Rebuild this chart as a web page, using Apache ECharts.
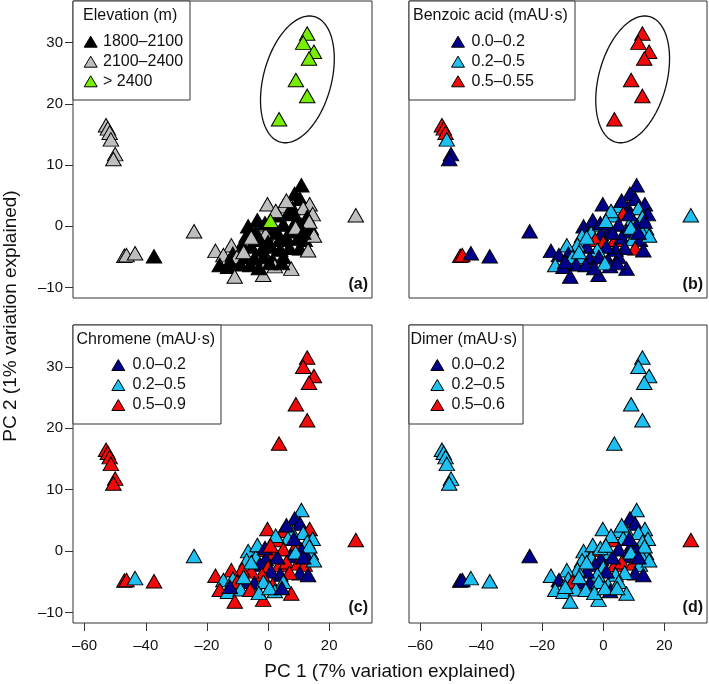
<!DOCTYPE html>
<html>
<head>
<meta charset="utf-8">
<script src="https://cdn.jsdelivr.net/npm/echarts@6/dist/echarts.min.js"></script>
<style>
html,body{margin:0;padding:0;background:#fff;}
#chart{width:709px;height:684px;}
</style>
</head>
<body>
<div id="chart"></div>
<script>
// ---------------- DATA ----------------
const pc1 = [
  12.8, 11.5, 15.0, 13.4, 9.1, 12.8, 3.6,
  -53.0, -52.4, -51.8, -51.4, -50.0, -50.6,
  -47.0, -46.3, -43.5, -37.3,
  -24.2, 28.7,
  10.9, 8.7, 10.4, 13.6, -0.2, 5.0, 8.0, 11.5, 14.6, 6.5, 3.3, 12.8, 9.5,
  -6.5, -2.7, 5.0, 11.0, 14.0, 12.5, 7.5, 2.0, -4.0, -0.8,
  -7.0, -2.7, 0.0, 3.8, 6.0, 9.8, 12.0, 15.0, 10.4, 13.1,
  7.0, 4.0, 1.0, -2.0, -5.5, -8.5, -12.0, -17.2, -14.6, -11.5,
  -10.2, -7.2, -4.5, -1.5, 1.5, 5.0, -15.8, -13.1, -9.0, -5.8,
  2.2, 7.6, -10.9, -1.6, -3.0, 0.5, 9.0, 8.5, 6.0, 2.5,
  -3.5, -5.5, 3.0, 13.5, 11.5, -8.0, -12.5, 4.5, -1.0,
  0.8
];
const pc2 = [
  31.5, 30.0, 28.5, 27.4, 23.9, 21.3, 17.5,
  16.5, 16.0, 15.3, 14.2, 11.8, 11.0,
  -4.8, -4.7, -4.4, -4.9,
  -0.8, 1.8,
  6.7, 5.3, 4.5, 3.6, 3.6, 3.3, 3.0, 3.0, 2.0, 2.1, 1.8, 1.5, 1.2,
  0.0, 0.2, 0.3, 0.2, -0.3, -0.8, -0.8, -0.3, -1.0, -1.3,
  -1.5, -2.2, -2.6, -2.2, -1.8, -2.0, -2.2, -1.5, -3.6, -3.9,
  -3.5, -3.8, -3.3, -3.8, -3.3, -3.0, -3.1, -4.0, -4.7, -4.5,
  -5.0, -5.0, -5.2, -5.0, -5.5, -5.0, -6.3, -6.6, -6.2, -6.3,
  -6.5, -6.9, -8.2, -7.9, -6.8, -6.0, -0.2, 2.0, 4.2, 2.5,
  1.0, -1.8, -1.0, 0.8, -1.0, -4.2, -5.8, -6.0, 0.5,
  0.9
];
// class index per point (0 = first legend entry, 1 = second, 2 = third)
const elevation = [
  2,2,2,2,2,2,2,
  1,1,1,1,1,1,
  1,1,1,0,
  1,1,
  0,0,0,1,1,1,0,1,1,0,0,0,0,
  0,1,0,0,0,0,0,0,0,1,
  0,0,0,0,0,0,0,1,0,1,
  0,0,0,0,0,0,1,1,1,0,
  1,0,0,0,0,0,0,0,0,0,
  1,1,1,1,0,0,1,0,1,1,
  0,1,0,1,0,1,0,0,0,
  2
];
const benzoic = [
  2,2,2,2,2,2,2,
  2,2,2,1,0,0,
  2,2,0,0,
  0,1,
  0,0,0,0,0,1,0,1,0,2,1,1,1,
  0,1,0,0,1,1,0,0,1,0,
  1,2,2,2,0,1,0,1,2,0,
  0,0,0,1,0,1,1,0,0,0,
  1,1,0,0,0,0,1,0,0,0,
  0,0,0,0,0,1,1,0,0,1,
  0,1,0,0,0,1,0,0,0,
  1
];
const chromene = [
  2,2,2,2,2,2,2,
  2,2,2,2,2,2,
  2,2,1,2,
  1,2,
  1,0,0,2,2,2,1,1,1,1,2,1,2,
  1,2,2,0,1,0,0,2,1,0,
  1,0,2,2,2,2,2,1,0,0,
  2,0,0,2,2,2,2,2,1,1,
  2,0,0,1,2,1,2,1,1,2,
  1,2,2,2,1,1,1,0,0,1,
  1,1,0,1,0,1,0,0,0,
  2
];
const dimer = [
  1,1,1,1,1,1,1,
  1,1,1,1,1,1,
  0,0,1,1,
  0,2,
  1,0,0,1,1,1,1,1,1,1,2,1,0,
  1,2,0,0,1,1,0,1,1,0,
  1,0,1,2,2,2,1,1,0,0,
  1,1,0,1,0,1,1,1,0,1,
  2,0,0,1,1,1,1,1,1,1,
  0,1,1,1,1,1,1,0,1,1,
  1,1,0,1,0,1,1,1,1,
  1
];
const ellipseCenter = [9.6, 24.0];
const xTicks = [-60, -40, -20, 0, 20];
const yTicks = [-10, 0, 10, 20, 30];
const xTitle = 'PC 1 (7% variation explained)';
const yTitle = 'PC 2 (1% variation explained)';
const panelLabels = ['(a)', '(b)', '(c)', '(d)'];
const legendTitles = ['Elevation (m)', 'Benzoic acid (mAU\u00b7s)', 'Chromene (mAU\u00b7s)', 'Dimer (mAU\u00b7s)'];
const legendItems = [
  ['1800\u20132100', '2100\u20132400', '> 2400'],
  ['0.0\u20130.2', '0.2\u20130.5', '0.5\u20130.55'],
  ['0.0\u20130.2', '0.2\u20130.5', '0.5\u20130.9'],
  ['0.0\u20130.2', '0.2\u20130.5', '0.5\u20130.6']
];
const classes = [elevation, benzoic, chromene, dimer];

// ---------------- STYLE ----------------
const FONT = '"Liberation Sans", Arial, Helvetica, sans-serif';
const palettes = [
  ['#000000', '#BEBEBE', '#76EE00'],
  ['#00008B', '#1EC0F2', '#F20A0A'],
  ['#00008B', '#1EC0F2', '#F20A0A'],
  ['#00008B', '#1EC0F2', '#F20A0A']
];
const grids = [
  {left: 73, top: 1, width: 299, height: 297},
  {left: 409, top: 1, width: 298, height: 297},
  {left: 73, top: 325, width: 299, height: 298},
  {left: 409, top: 325, width: 298, height: 298}
];
const legendLayout = [
  {box: [73, 1, 117, 99], title: [83, 15.5], icon: 90.7, text: 103, ys: [41.7, 61.7, 81.3]},
  {box: [409, 1, 166, 99], title: [413, 15.5], icon: 458, text: 471.5, ys: [41.7, 61.7, 81.3]},
  {box: [73, 325, 148, 99], title: [76.5, 339.5], icon: 118.3, text: 132.5, ys: [365, 385, 405]},
  {box: [409, 325, 114, 99], title: [410.5, 339.5], icon: 437.3, text: 451.5, ys: [365, 385, 405]}
];
const fmt = v => (v < 0 ? '\u2013' + Math.abs(v) : String(v));

const chart = echarts.init(document.getElementById('chart'), null, {renderer: 'canvas'});

const xAxes = [], yAxes = [], series = [], graphics = [];
grids.forEach((g, i) => {
  const showX = i >= 2, showY = (i % 2) === 0;
  xAxes.push({
    gridIndex: i, type: 'value', min: -63.8, max: 34.0, position: 'bottom',
    axisLine: {show: false, onZero: false}, splitLine: {show: false},
    axisTick: {show: showX, inside: false, length: 8, customValues: xTicks, lineStyle: {color: '#333', width: 1}},
    axisLabel: {show: showX, customValues: xTicks, formatter: fmt, fontSize: 15, color: '#111', margin: 15, fontFamily: FONT}
  });
  yAxes.push({
    gridIndex: i, type: 'value', min: -11.7, max: 36.8, position: 'left',
    axisLine: {show: false, onZero: false}, splitLine: {show: false},
    axisTick: {show: showY, inside: false, length: 8, customValues: yTicks, lineStyle: {color: '#333', width: 1}},
    axisLabel: {show: showY, customValues: yTicks, formatter: fmt, fontSize: 15, color: '#111', margin: 10, fontFamily: FONT}
  });
  const cls = classes[i];
  const pal = palettes[i];
  series.push({
    type: 'scatter', xAxisIndex: i, yAxisIndex: i,
    symbol: 'triangle', symbolSize: [15.5, 13.5],
    data: pc1.map((x, j) => [x, pc2[j], cls[j]]),
    itemStyle: {
      color: p => pal[p.value[2]],
      borderColor: '#000', borderWidth: 1, opacity: 1
    },
    emphasis: {disabled: true},
    silent: true,
    z: 2
  });
  if (i < 2) {
    series.push({
      type: 'custom', xAxisIndex: i, yAxisIndex: i,
      data: [ellipseCenter],
      silent: true, z: 3,
      renderItem: (params, api) => {
        const c = api.coord([api.value(0), api.value(1)]);
        const a = 65, b = 34, th = 15 * Math.PI / 180;
        const pts = [];
        for (let k = 0; k <= 90; k++) {
          const t = k / 90 * 2 * Math.PI;
          const u = b * Math.cos(t), v = a * Math.sin(t);
          pts.push([c[0] + u * Math.cos(th) + v * Math.sin(th), c[1] + u * Math.sin(th) - v * Math.cos(th)]);
        }
        return {type: 'polygon', shape: {points: pts}, style: {fill: 'none', stroke: '#111', lineWidth: 1.3}};
      }
    });
  }
  const L = legendLayout[i];
  graphics.push({type: 'rect', z: 100, shape: {x: L.box[0], y: L.box[1], width: L.box[2], height: L.box[3]},
    style: {fill: '#fff', stroke: '#333', lineWidth: 1}});
  graphics.push({type: 'text', z: 101, x: L.title[0], y: L.title[1],
    style: {text: legendTitles[i], fill: '#111', fontSize: 16, fontFamily: FONT,
      align: 'left', verticalAlign: 'middle', textAlign: 'left', textVerticalAlign: 'middle'}});
  legendItems[i].forEach((name, k) => {
    const cx = L.icon, cy = L.ys[k];
    graphics.push({type: 'polygon', z: 101,
      shape: {points: [[cx - 6.5, cy + 5.5], [cx + 6.5, cy + 5.5], [cx, cy - 5.5]]},
      style: {fill: pal[k], stroke: '#000', lineWidth: 1}});
    graphics.push({type: 'text', z: 101, x: L.text, y: cy,
      style: {text: name, fill: '#111', fontSize: 16, fontFamily: FONT,
        align: 'left', verticalAlign: 'middle', textAlign: 'left', textVerticalAlign: 'middle'}});
  });
  graphics.push({type: 'text', z: 101, x: g.left + g.width - 4, y: i < 2 ? 285 : 608,
    style: {text: panelLabels[i], fill: '#111', fontSize: 16, fontWeight: 'bold', fontFamily: FONT,
      align: 'right', verticalAlign: 'middle', textAlign: 'right', textVerticalAlign: 'middle'}});
});

graphics.push({type: 'text', z: 101, x: 390, y: 672,
  style: {text: xTitle, fill: '#111', fontSize: 19, fontFamily: FONT,
    align: 'center', verticalAlign: 'middle', textAlign: 'center', textVerticalAlign: 'middle'}});
graphics.push({type: 'text', z: 101, x: 11, y: 316, rotation: Math.PI / 2,
  style: {text: yTitle, fill: '#111', fontSize: 19, fontFamily: FONT,
    align: 'center', verticalAlign: 'middle', textAlign: 'center', textVerticalAlign: 'middle'}});

chart.setOption({
  animation: false,
  backgroundColor: '#fff',
  grid: grids.map(g => Object.assign({show: true, borderColor: '#333', borderWidth: 1, backgroundColor: 'transparent'}, g)),
  xAxis: xAxes,
  yAxis: yAxes,
  series: series,
  graphic: graphics
});
</script>
</body>
</html>
